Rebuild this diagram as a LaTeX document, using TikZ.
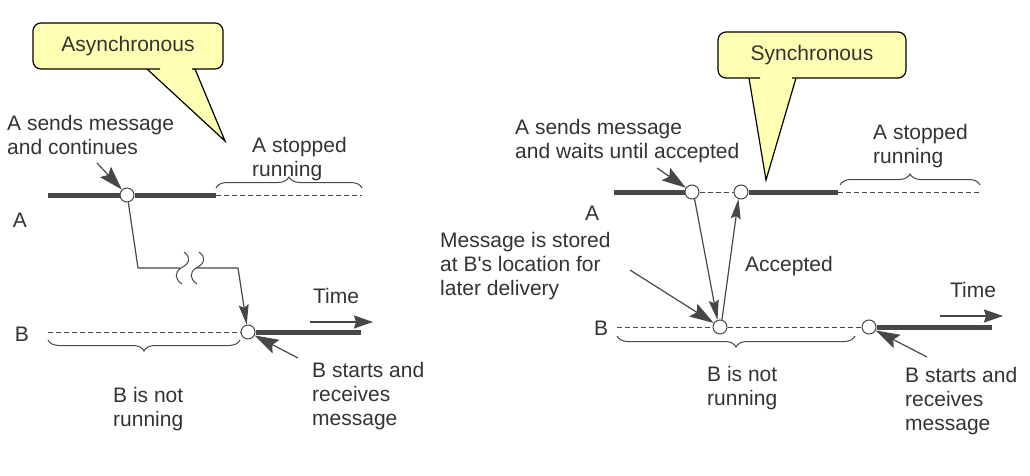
\documentclass[tikz,border=0pt]{standalone}
\usepackage{fontspec}
\setmainfont{Liberation Sans}
\usepackage{tikz}
\usetikzlibrary{positioning,arrows.meta,calc,decorations.pathreplacing}
\usepackage{xcolor}
\definecolor{ink}{HTML}{474747}
\definecolor{txt}{HTML}{333333}
\definecolor{balloonfill}{HTML}{FFFFB4}

\begin{document}
\begin{tikzpicture}[x=1pt, y=-1pt, font=\fontsize{21}{24}\selectfont, text=txt,
  run/.style={draw=ink, line width=5pt},
  idle/.style={draw=ink, line width=0.9pt, dash pattern=on 5pt off 3pt},
  evt/.style={circle, draw=ink, fill=white, line width=1pt, minimum size=14pt, inner sep=0pt},
  msg/.style={draw=ink, line width=1.2pt, -{Stealth[length=20pt,width=10pt,inset=3pt]}},
  pointer/.style={draw=ink, line width=1.2pt, -{Stealth[length=24pt,width=15pt,inset=4pt]}},
  timearrow/.style={draw=ink, line width=1.5pt, -{Stealth[length=19pt,width=13pt,inset=2pt]}},
  brc/.style={draw=ink, line width=1pt, decorate, decoration={brace, amplitude=11pt}},
  note/.style={align=left, anchor=north west, inner sep=0pt},
  balloon/.style={draw=black, fill=balloonfill, line width=1.2pt}]
\useasboundingbox (0,0) rectangle (1030,476);

%%%%% Asynchronous (left)
% Callout
\draw[balloon] (160,69) {[rounded corners=8pt] -- (33,69) -- (33,23) -- (223,23) -- (223,69) -- (200,69)}
  -- (195,69) -- (225,141) -- (147,69) -- cycle;
\node (async) at (128,46) {Asynchronous};

% Process A
\node (lA) at (20,220) {A};
\coordinate (la0) at (48,195);
\node[evt] (lA1) at (127,195) {};
\coordinate (la2) at (216,195);
\coordinate (la3) at (362,195);
\draw[run] (la0) -- (lA1);
\draw[run] (lA1) -- (la2);
\draw[idle] (la2) -- (la3);
\draw[brc] (216,188) -- (362,188);
\node[note] (lAstop) at (252,137) {A stopped\\running};
\node[note] (lAsend) at (7,115) {A sends message\\and continues};
\coordinate (lp1) at (97,163);
\draw[pointer] (lp1) -- (lA1);

% Process B
\node (lB) at (22,334) {B};
\coordinate (lb0) at (48,332);
\node[evt] (lB1) at (248,332) {};
\coordinate (lb2) at (361,332);
\draw[idle] (lb0) -- (lB1);
\draw[run] (lB1) -- (lb2);
\draw[brc] (240,340) -- (48,340);
\node[note] (lBidle) at (113,387) {B is not\\running};
\node[note] (lBrecv) at (312,362) {B starts and\\receives\\message};
\coordinate (lp2) at (298,358);
\draw[pointer] (lp2) -- (lB1);

% Message with break
\coordinate (m1) at (138,268);
\coordinate (m2) at (180,268);
\coordinate (m3) at (196,268);
\coordinate (m4) at (238,268);
\draw[draw=ink, line width=1.2pt] (lA1.280) -- (m1) -- (m2);
\draw[msg] (m3) -- (m4) -- (lB1.100);
\foreach \dx in {0,15} {
  \draw[ink, line width=1pt, xshift=\dx pt] (184,252) .. controls (192,258) and (189,264) .. (181,268)
    .. controls (174,273) and (175,279) .. (182,284);
}

% Time
\coordinate (lt0) at (310,322);
\coordinate (lt1) at (373,322);
\draw[timearrow] (lt0) -- (lt1);
\node (ltime) at (336,296) {Time};

%%%%% Synchronous (right)
% Callout
\draw[balloon] (760,78) {[rounded corners=8pt] -- (718,78) -- (718,32) -- (906,32) -- (906,78) -- (800,78)}
  -- (796,78) -- (766,180) -- (749,78) -- cycle;
\node (sync) at (812,55) {Synchronous};

% Process A
\node (rA) at (592,213) {A};
\coordinate (ra0) at (614,192);
\node[evt] (rA1) at (692,192) {};
\node[evt] (rA2) at (741,192) {};
\coordinate (ra3) at (838,192);
\coordinate (ra4) at (980,192);
\draw[run] (ra0) -- (rA1);
\draw[idle] (rA1) -- (rA2);
\draw[run] (rA2) -- (ra3);
\draw[idle] (ra3) -- (ra4);
\draw[brc] (840,185) -- (980,185);
\node[note] (rAstop) at (873,124) {A stopped\\running};
\node[note] (rAsend) at (515,119) {A sends message\\and waits until accepted};
\coordinate (rp1) at (657,168);
\draw[pointer] (rp1) -- (rA1);

% Process B
\node (rB) at (601,328) {B};
\coordinate (rb0) at (617,327);
\node[evt] (rB1) at (720,327) {};
\node[evt] (rB2) at (869,327) {};
\coordinate (rb3) at (992,327);
\draw[idle] (rb0) -- (rB1);
\draw[idle] (rB1) -- (rB2);
\draw[run] (rB2) -- (rb3);
\draw[brc] (855,336) -- (617,336);
\node[note] (rBidle) at (707,366) {B is not\\running};
\node[note] (rBrecv) at (905,367) {B starts and\\receives\\message};
\node[note] (rstore) at (440,232) {Message is stored\\at B\textquotesingle s location for\\later delivery};
\coordinate (rp2) at (630,270);
\draw[pointer] (rp2) -- (rB1);
\coordinate (rp3) at (927,357);
\draw[pointer] (rp3) -- (rB2);

% Message and acceptance
\draw[msg] (rA1.290) -- (rB1.110);
\draw[msg] (rB1.75) -- (rA2.250);
\node[anchor=west, inner sep=0pt] (acc) at (745,266) {Accepted};

% Time
\coordinate (rt0) at (940,316);
\coordinate (rt1) at (1003,316);
\draw[timearrow] (rt0) -- (rt1);
\node (rtime) at (973,290) {Time};
\end{tikzpicture}
\end{document}
